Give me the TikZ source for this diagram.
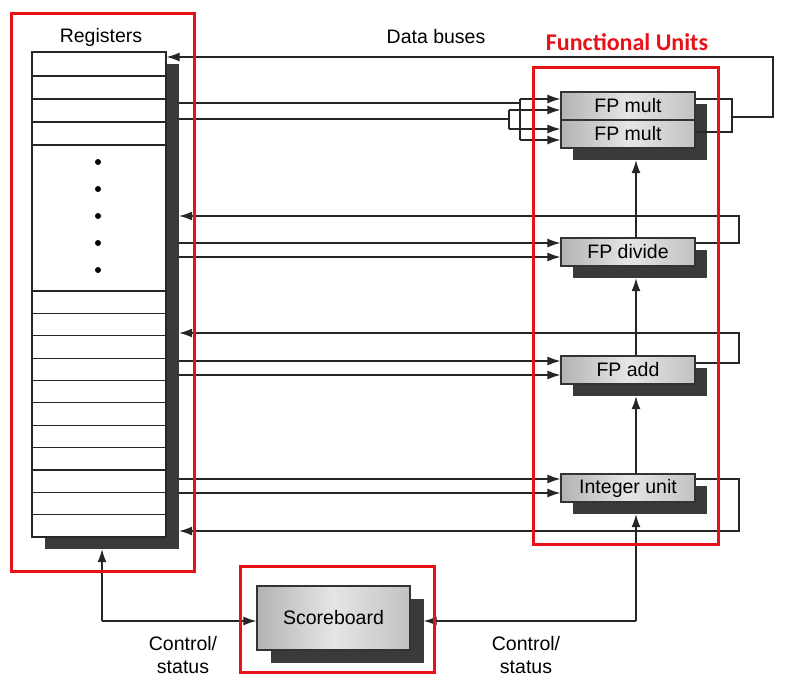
\documentclass[tikz,border=0pt]{standalone}
\usepackage{fontspec}
\setmainfont{Liberation Sans}
\newfontfamily\calib{Carlito}
\usetikzlibrary{arrows.meta}
\definecolor{redbox}{RGB}{230,18,24}
\definecolor{shd}{RGB}{58,58,58}
\newcommand{\unitfont}{\fontsize{19.5}{23}\selectfont}
\begin{document}
\begin{tikzpicture}[x=1pt,y=-1pt,
  conn/.style={line width=1.2pt, draw=black!85},
  arr/.style={conn, -{Latex[length=13pt,width=9pt]}},
  unitbox/.style={draw=black!80, line width=1.2pt, left color=black!30, right color=black!24, middle color=black!10,
    minimum width=134pt, minimum height=28pt, inner sep=0pt, font=\unitfont},
  shadowbox/.style={fill=shd, draw=none, minimum width=134pt, minimum height=28pt, inner sep=0pt},
  redframe/.style={draw=redbox, line width=3pt},
  lbl/.style={font=\unitfont, align=center, inner sep=0pt}]
\useasboundingbox (0,0) rectangle (794,682);

% ---------- register file ----------
\node[shadowbox, minimum width=134pt, minimum height=485pt] (rfs) at (112,306.5) {};
\node[draw=black!85, line width=1.2pt, fill=white, minimum width=134pt, minimum height=485pt, inner sep=0pt] (rf) at (99,294.5) {};
\foreach \yy in {76,99,122,145,291,313.4,335.7,358.1,380.5,402.8,425.2,447.5,469.9,492.3,514.6}
  \draw[line width=1.2pt, draw=black!85] (rf.west |- 0,\yy) -- (rf.east |- 0,\yy);
\foreach \yy in {162,189,216,243,270}
  \fill (98,\yy) circle (3pt);
\node[lbl] (regl) at (101,37) {Registers};

% ---------- functional units ----------
\node[shadowbox, minimum height=56pt] (fms) at (640,132) {};
\node[unitbox] (fm1) at (628,106) {FP mult};
\node[unitbox] (fm2) at (628,134) {FP mult};
\node[shadowbox] (fds) at (640,264) {};
\node[unitbox] (fd) at (628,252) {FP divide};
\node[shadowbox] (fas) at (640,382) {};
\node[unitbox] (fa) at (628,370) {FP add};
\node[shadowbox] (ius) at (640,500) {};
\node[unitbox] (iu) at (628,488) {Integer unit};

% ---------- scoreboard ----------
\node[shadowbox, minimum width=153pt, minimum height=64pt] (sbs) at (347,631) {};
\node[unitbox, minimum width=153pt, minimum height=64pt] (sb) at (333.5,618) {Scoreboard};

% ---------- labels ----------
\node[lbl] (dbl) at (436,37) {Data buses};
\node[font=\calib\bfseries\fontsize{24}{28}\selectfont, text=redbox, inner sep=0pt] (ful) at (627,42) {Functional Units};
\node[lbl] (cs1) at (183,655) {Control/\\[0pt]status};
\node[lbl] (cs2) at (526,655) {Control/\\[0pt]status};

% ---------- FP mult wiring ----------
\coordinate (ja) at (520,103);
\coordinate (jb) at (509,119);
\draw[conn] (rfs.east |- ja) -- (ja);
\draw[conn] (rfs.east |- jb) -- (jb);
\draw[conn] (ja |- 0,99) -- (ja |- 0,140);
\draw[conn] (jb |- 0,110) -- (jb |- 0,129);
\draw[arr] (ja |- 0,99) -- (fm1.west |- 0,99);
\draw[arr] (jb |- 0,110) -- (fm1.west |- 0,110);
\draw[arr] (jb |- 0,129) -- (fm2.west |- 0,129);
\draw[arr] (ja |- 0,140) -- (fm2.west |- 0,140);
\coordinate (mo) at (732,117);
\coordinate (bt) at (773,57);
\draw[conn] (fm1.east |- 0,99) -| (mo) |- (fm2.east |- 0,132);
\draw[arr] (mo) -| (bt) -- (rf.east |- bt);

% ---------- FP divide wiring ----------
\draw[arr] (rfs.east |- 0,243) -- (fd.west |- 0,243);
\draw[arr] (rfs.east |- 0,257) -- (fd.west |- 0,257);
\draw[arr] (fd.east |- 0,243) -| (739,216) -- (rfs.east |- 0,216);

% ---------- FP add wiring ----------
\draw[arr] (rfs.east |- 0,361) -- (fa.west |- 0,361);
\draw[arr] (rfs.east |- 0,375) -- (fa.west |- 0,375);
\draw[arr] (fa.east |- 0,363) -| (739,333) -- (rfs.east |- 0,333);

% ---------- Integer unit wiring ----------
\draw[arr] (rfs.east |- 0,479) -- (iu.west |- 0,479);
\draw[arr] (rfs.east |- 0,493) -- (iu.west |- 0,493);
\draw[arr] (iu.east |- 0,479) -| (739,531) -- (rfs.east |- 0,531);

% ---------- vertical chain ----------
\draw[arr] (fd.north -| 636,0) -- (fms.south -| 636,0);
\draw[arr] (fa.north -| 636,0) -- (fds.south -| 636,0);
\draw[arr] (iu.north -| 636,0) -- (fas.south -| 636,0);

% ---------- control / status ----------
\coordinate (cl) at (102,621);
\coordinate (cr) at (636,621);
\draw[arr] (cl) -- (rfs.south -| cl);
\draw[arr] (cl) -- (sb.west |- cl);
\draw[arr] (cr) -- (ius.south -| cr);
\draw[arr] (cr) -- (sbs.east |- cr);

% ---------- red frames ----------
\draw[redframe] (11,14) rectangle (194,571);
\draw[redframe] (533,68) rectangle (718,544);
\draw[redframe] (240,566) rectangle (434,672);
\end{tikzpicture}
\end{document}
